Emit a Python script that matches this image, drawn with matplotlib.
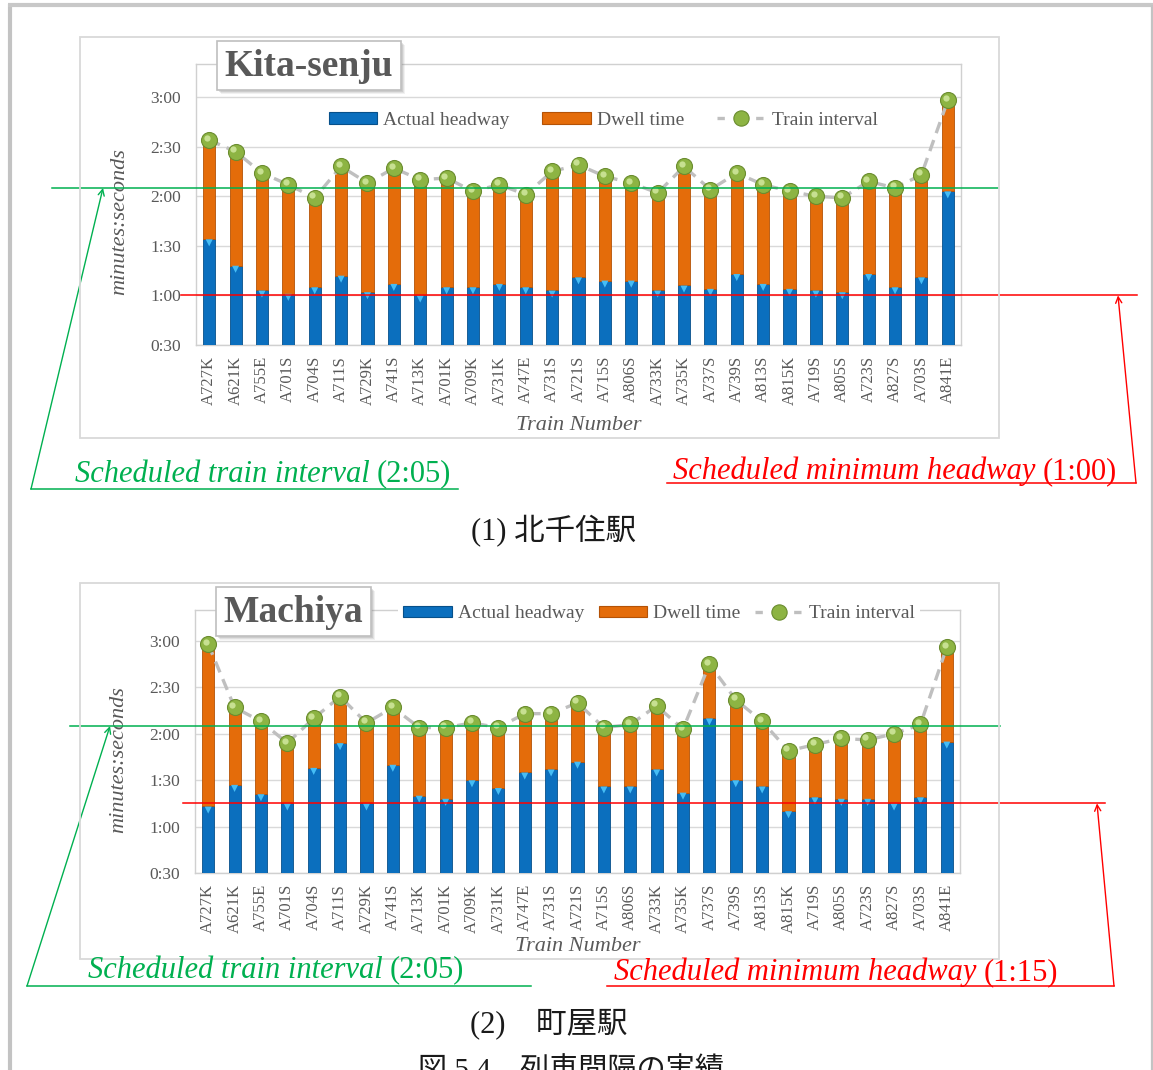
import matplotlib
matplotlib.use("Agg")
import matplotlib.pyplot as plt
from matplotlib.patches import Rectangle, Patch
from matplotlib.lines import Line2D
from matplotlib.transforms import offset_copy, blended_transform_factory
import numpy as np

plt.rcParams["font.family"] = ["Liberation Serif", "Noto Sans CJK JP"]

W, H = 1153, 1070

# ---- data (seconds) ----
trains = ["A727K", "A621K", "A755E", "A701S", "A704S", "A711S", "A729K", "A741S",
          "A713K", "A701K", "A709K", "A731K", "A747E", "A731S", "A721S", "A715S",
          "A806S", "A733K", "A735K", "A737S", "A739S", "A813S", "A815K", "A719S",
          "A805S", "A723S", "A827S", "A703S", "A841E"]

kita_headway = [94, 78, 63, 61, 65, 72, 62, 67, 60, 65, 65, 67, 65, 63, 71,
                69, 69, 63, 66, 64, 73, 67, 64, 63, 62, 73, 65, 71, 123]
kita_dwell = [60, 69, 71, 66, 54, 66, 66, 70, 70, 66, 58, 60, 56, 72, 68,
              63, 59, 59, 72, 60, 61, 60, 59, 57, 57, 56, 60, 62, 55]
kita_interval = [154, 147, 134, 127, 119, 138, 128, 137, 130, 131, 123, 127, 121, 135, 139,
                 132, 128, 122, 138, 124, 134, 127, 123, 120, 119, 129, 125, 133, 178]

machiya_headway = [73, 87, 81, 75, 98, 114, 75, 100, 80, 78, 90, 85, 95, 97, 102,
                   86, 86, 97, 82, 130, 90, 86, 70, 79, 78, 78, 75, 79, 115]
machiya_dwell = [105, 50, 47, 39, 32, 30, 52, 37, 44, 46, 37, 39, 38, 36, 38,
                 38, 40, 41, 41, 35, 52, 42, 39, 34, 39, 38, 45, 47, 61]
machiya_interval = [178, 137, 128, 114, 130, 144, 127, 137, 124, 124, 127, 124, 133, 133, 140,
                    124, 126, 138, 123, 165, 142, 128, 109, 113, 117, 116, 120, 126, 176]

y_ticks = [30, 60, 90, 120, 150, 180]
y_tick_labels = ["0:30", "1:00", "1:30", "2:00", "2:30", "3:00"]

sched_interval = 125          # 2:05
kita_min_headway = 60         # 1:00
machiya_min_headway = 75      # 1:15

BLUE = "#0B6FBE"
BLUE_EDGE = "#07508A"
BEVEL = "#45BDF5"
ORANGE = "#E46C0A"
ORANGE_EDGE = "#B45206"
GREEN_DOT = "#8DB443"
GREEN_DOT_EDGE = "#6A8C2E"
GRAY_TXT = "#595959"
GRID = "#D9D9D9"
ANN_GREEN = "#00B050"
ANN_RED = "#FF0000"


def fx(px):
    return px / W


def fy(py):
    return 1 - py / H


fig = plt.figure(figsize=(W / 100, H / 100), dpi=100)
fig.patch.set_facecolor("white")

# page border
fig.add_artist(Line2D([fx(10), fx(10)], [fy(4), fy(1075)], color="#C3C3C3", lw=3.0,
                      transform=fig.transFigure, solid_capstyle="butt"))
fig.add_artist(Line2D([fx(8), fx(1153)], [fy(5), fy(5)], color="#C8C8C8", lw=3.0,
                      transform=fig.transFigure, solid_capstyle="butt"))
fig.add_artist(Line2D([fx(1151.5), fx(1151.5)], [fy(5), fy(1075)], color="#C3C3C3", lw=1.6,
                      transform=fig.transFigure, solid_capstyle="butt"))


def chart_frame(x0, y0, x1, y1):
    fig.add_artist(Rectangle((fx(x0), fy(y1)), fx(x1) - fx(x0), fy(y0) - fy(y1),
                             transform=fig.transFigure, fill=False,
                             edgecolor="#D9D9D9", lw=1.3, zorder=0.5))


def title_box(x0, y0, x1, y1, label):
    # soft shadow
    for i, a in enumerate([0.10, 0.14, 0.20]):
        off = 4 - i
        fig.add_artist(Rectangle((fx(x0 + off), fy(y1 + off)), fx(x1) - fx(x0), fy(y0) - fy(y1),
                                 transform=fig.transFigure, facecolor="#7F7F7F",
                                 edgecolor="none", alpha=a, zorder=8))
    fig.add_artist(Rectangle((fx(x0), fy(y1)), fx(x1) - fx(x0), fy(y0) - fy(y1),
                             transform=fig.transFigure, facecolor="white",
                             edgecolor="#BFBFBF", lw=1.2, zorder=9))
    fig.text(fx((x0 + x1) / 2), fy((y0 + y1) / 2 + 1), label, ha="center", va="center",
             fontsize=27, fontweight="bold", color=GRAY_TXT, zorder=10)


def panel(rect, headway, dwell, interval, legend_xy, legend_bg, col_space,
          ylabel_y, xlabel_y):
    ax = fig.add_axes(rect)
    x = np.arange(len(trains))
    ax.bar(x, headway, width=0.46, color=BLUE, edgecolor=BLUE_EDGE, lw=0.6, zorder=3)
    ax.bar(x, dwell, bottom=headway, width=0.46, color=ORANGE, edgecolor=ORANGE_EDGE,
           lw=0.6, zorder=3)
    # bevel highlight at top of the headway segments
    ax.scatter(x, headway, marker="v", s=26, color=BEVEL, edgecolors="none", zorder=4,
               transform=offset_copy(ax.transData, fig=fig, x=0, y=-2.6, units="points"))
    ax.plot(x, interval, color="#BFBFBF", lw=2.4, dashes=(3.5, 2.2), zorder=5)
    ax.plot(x, interval, "o", ms=11.5, mfc=GREEN_DOT, mec=GREEN_DOT_EDGE, mew=0.8, zorder=6)
    ax.plot(x, interval, "o", ms=4.5, mfc="#D2E9A0", mec="none", alpha=0.85, zorder=7,
            transform=offset_copy(ax.transData, fig=fig, x=-1.6, y=1.8, units="points"))

    ax.set_xlim(-0.5, len(trains) - 0.5)
    ax.set_ylim(30, 200)
    ax.set_yticks(y_ticks)
    ax.set_yticklabels(y_tick_labels)
    ax.set_xticks(x)
    ax.set_xticklabels(trains, rotation=90)
    ax.yaxis.grid(True, color=GRID, lw=1.0)
    ax.set_axisbelow(True)
    for s in ax.spines.values():
        s.set_color("#D0D0D0")
        s.set_linewidth(1.0)
    ax.tick_params(axis="y", length=0, pad=11, labelsize=12.5, labelcolor=GRAY_TXT)
    ax.tick_params(axis="x", length=0, pad=8, labelsize=12, labelcolor=GRAY_TXT)

    ax.set_ylabel("minutes:seconds", fontsize=16, style="italic", color=GRAY_TXT)
    ax.yaxis.set_label_coords(-0.087, ylabel_y)
    ax.set_xlabel("Train Number", fontsize=16, style="italic", color=GRAY_TXT, va="center")
    ax.xaxis.set_label_coords(0.5, xlabel_y)

    handles = [
        Patch(facecolor=BLUE, edgecolor=BLUE_EDGE, lw=0.8),
        Patch(facecolor=ORANGE, edgecolor=ORANGE_EDGE, lw=0.8),
        Line2D([], [], color="#BFBFBF", lw=2.4, dashes=(2.2, 3.6), marker="o", ms=11,
               mfc=GREEN_DOT, mec=GREEN_DOT_EDGE, mew=0.8),
    ]
    leg = ax.legend(handles, ["Actual headway", "Dwell time", "Train interval"],
                    loc="center", bbox_to_anchor=legend_xy, ncol=3, fontsize=14,
                    handlelength=2.5, handleheight=0.55, handletextpad=0.3,
                    columnspacing=col_space, borderpad=0.25, fancybox=False,
                    frameon=legend_bg, facecolor="white", edgecolor="none", framealpha=1)
    for t in leg.get_texts():
        t.set_color(GRAY_TXT)
    return ax


def ref_line(ax, value, x0, x1, color):
    tr = blended_transform_factory(fig.transFigure, ax.transData)
    ax.plot([fx(x0), fx(x1)], [value, value], color=color, lw=1.1, transform=tr,
            clip_on=False, zorder=12)


def callout(ax, value, tip_x, corner, line_end_x, text_x, text_y, label, value_txt, color):
    # underline and leader with arrow to the reference line
    fig.add_artist(Line2D([fx(corner[0]), fx(line_end_x)], [fy(corner[1]), fy(corner[1])],
                          color=color, lw=1.1, transform=fig.transFigure, zorder=12))
    ax.annotate("", xy=(fx(tip_x), value), xycoords=(fig.transFigure, ax.transData),
                xytext=(fx(corner[0]), fy(corner[1])), textcoords="figure fraction",
                arrowprops=dict(arrowstyle="->", color=color, lw=1.0, shrinkA=0, shrinkB=0,
                                mutation_scale=11),
                annotation_clip=False, zorder=12)
    t1 = fig.text(fx(text_x), fy(text_y), label, ha="left", va="center", fontsize=22,
                  style="italic", color=color, zorder=12)
    fig.add_artist(plt.Annotation(value_txt, xy=(1, 0), xycoords=t1, xytext=(5, 0),
                                  textcoords="offset points", ha="left", va="bottom",
                                  fontsize=22, color=color, zorder=12))


# ---- (1) Kita-senju ----
chart_frame(80, 37, 999, 438)
ax1 = panel([fx(196), fy(345), (961 - 196) / W, (345 - 64) / H],
            kita_headway, kita_dwell, kita_interval,
            legend_xy=(0.532, 0.80), legend_bg=False, col_space=1.7,
            ylabel_y=0.438, xlabel_y=-0.285)
title_box(217, 41, 401, 90, "Kita-senju")
ref_line(ax1, sched_interval, 52, 998, ANN_GREEN)
ref_line(ax1, kita_min_headway, 181, 1137, ANN_RED)
callout(ax1, sched_interval, 103, (31, 489), 458, 75, 474,
        "Scheduled train interval", "(2:05)", ANN_GREEN)
callout(ax1, kita_min_headway, 1118, (1136, 483), 667, 673, 471,
        "Scheduled minimum headway", "(1:00)", ANN_RED)
fig.text(fx(554), fy(531), "(1) 北千住駅", ha="center", va="center", fontsize=22,
         color="#1A1A1A")

# ---- (2) Machiya ----
chart_frame(80, 583, 999, 959)
ax2 = panel([fx(195), fy(873), (960 - 195) / W, (873 - 610) / H],
            machiya_headway, machiya_dwell, machiya_interval,
            legend_xy=(0.607, 0.985), legend_bg=True, col_space=0.75,
            ylabel_y=0.43, xlabel_y=-0.278)
title_box(216, 587, 371, 636, "Machiya")
ref_line(ax2, sched_interval, 70, 1000, ANN_GREEN)
ref_line(ax2, machiya_min_headway, 183, 1105, ANN_RED)
callout(ax2, sched_interval, 110, (27, 986), 531, 88, 970,
        "Scheduled train interval", "(2:05)", ANN_GREEN)
callout(ax2, machiya_min_headway, 1097, (1114, 986), 607, 614, 972,
        "Scheduled minimum headway", "(1:15)", ANN_RED)
fig.text(fx(549), fy(1024), "(2)\u3000町屋駅", ha="center", va="center", fontsize=22,
         color="#1A1A1A")

fig.text(fx(571), fy(1057), "図 5.4\u3000列車間隔の実績", ha="center", va="top", fontsize=21,
         color="#1A1A1A")

fig.savefig("out.png", dpi=100, facecolor="white")
